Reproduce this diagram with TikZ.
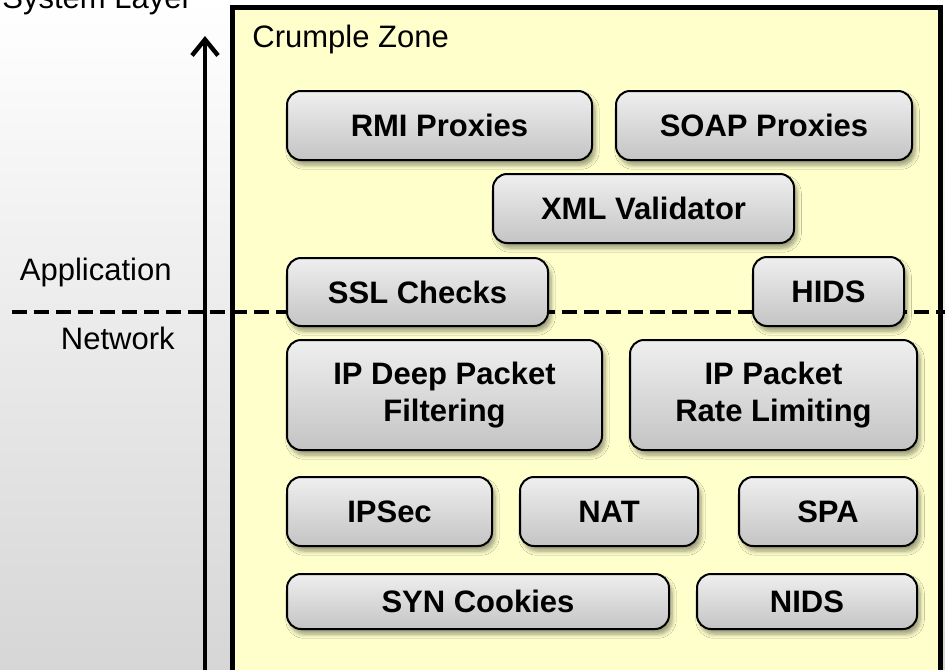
\documentclass[tikz,border=0pt]{standalone}
\usepackage{fontspec}
\setmainfont{Liberation Sans}
\usepackage{tikz}
\usetikzlibrary{arrows.meta, shadows.blur}
\definecolor{zonefill}{HTML}{FFFFCC}
\definecolor{boxtop}{HTML}{EFEFEF}
\definecolor{boxbot}{HTML}{C4C4C4}
\tikzset{
  layertext/.style={font=\fontsize{15.5}{18.6}\selectfont, inner sep=0pt},
  compbox/.style={draw=black, line width=1pt, rounded corners=7pt,
    top color=boxtop, bottom color=boxbot, inner sep=0pt, align=center,
    font=\fontsize{15.5}{18.6}\selectfont\bfseries,
    blur shadow={shadow xshift=1.5pt, shadow yshift=-2.5pt, shadow blur steps=6,
      shadow blur extra rounding=1pt, shadow opacity=40}},
}

\begin{document}
\begin{tikzpicture}[x=0.5pt, y=-0.5pt]
        \useasboundingbox (0,0) rectangle (945,669);
        \shade[top color=white, bottom color=black!16] (0,0) rectangle (945,669);
        % crumple zone frame
        \draw[line width=2.5pt, fill=zonefill] (232.5,7.5) rectangle (940,672);
        % layer axis
        \coordinate (axbot) at (205,680);
        \coordinate (axtop) at (205,36);
        \draw[line width=2.2pt, -{Straight Barb[length=8pt, width=13pt, line width=2.2pt]}] (axbot) -- (axtop);
        % application / network boundary
        \coordinate (sepl) at (12,312);
        \coordinate (sepr) at (950,312);
        \draw[line width=2pt, dash pattern=on 7.5pt off 3.5pt] (sepl) -- (sepr);
        \node[layertext, anchor=base west] (syslayer) at (2,9) {System Layer};
        \node[layertext, anchor=base east] (applbl) at (172,280) {Application};
        \node[layertext, anchor=base east] (netlbl) at (175,349) {Network};
        \node[layertext, anchor=base west] (zonelbl) at (252,47) {Crumple Zone};
        % application layer
        \node[compbox, minimum width=152.5pt, minimum height=34.5pt] (rmi) at (439.5,125.5) {RMI Proxies};
        \node[compbox, minimum width=148pt, minimum height=34.5pt] (soap) at (764,125.5) {SOAP Proxies};
        \node[compbox, minimum width=150.5pt, minimum height=34.5pt] (xml) at (643.5,208.5) {XML Validator};
        \node[compbox, minimum width=130.5pt, minimum height=34pt] (ssl) at (417.5,292) {SSL Checks};
        \node[compbox, minimum width=75.5pt, minimum height=34.5pt] (hids) at (828.5,291.5) {HIDS};
        % network layer
        \node[compbox, minimum width=157.5pt, minimum height=55pt] (ipdeep) at (444.5,395) {IP Deep Packet\\Filtering};
        \node[compbox, minimum width=143.5pt, minimum height=55pt] (iprate) at (773.5,395) {IP Packet\\Rate Limiting};
        \node[compbox, minimum width=102.5pt, minimum height=34.5pt] (ipsec) at (389.5,511.5) {IPSec};
        \node[compbox, minimum width=89pt, minimum height=34.5pt] (nat) at (609,511.5) {NAT};
        \node[compbox, minimum width=89pt, minimum height=34.5pt] (spa) at (828,511.5) {SPA};
        \node[compbox, minimum width=191pt, minimum height=27.5pt] (syn) at (478,601.5) {SYN Cookies};
        \node[compbox, minimum width=110pt, minimum height=27.5pt] (nids) at (807,601.5) {NIDS};
      \end{tikzpicture}
\end{document}
